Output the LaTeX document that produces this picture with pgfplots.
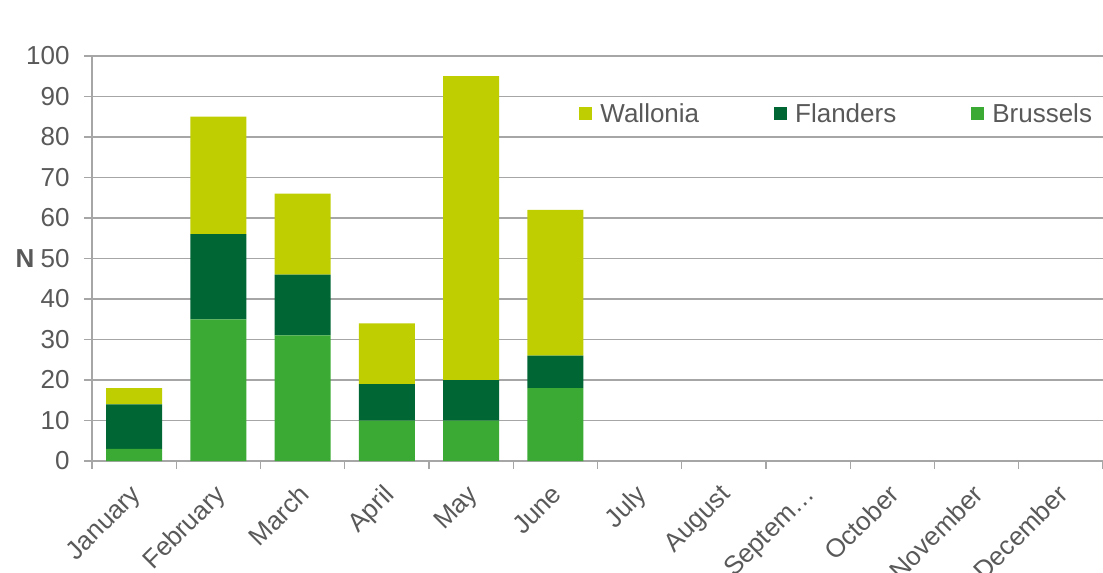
\documentclass[border=0pt]{standalone}
\usepackage{fontspec}
\setmainfont{Liberation Sans}
\usepackage{pgfplots}
\pgfplotsset{compat=1.18}
\definecolor{wal}{RGB}{190,206,0}
\definecolor{fla}{RGB}{0,102,51}
\definecolor{bru}{RGB}{58,170,53}
\definecolor{txt}{RGB}{89,89,89}
\definecolor{grd}{RGB}{166,166,166}
\begin{document}
\begin{tikzpicture}
\begin{axis}[
  at={(0,0)}, anchor=south west,
  scale only axis, width=1011bp, height=405bp,
  ybar stacked, bar width=56bp,
  xmin=-0.5, xmax=11.5, ymin=0, ymax=100,
  ytick={0,10,...,100},
  xtick={0,...,11},
  xticklabels={January,February,March,April,May,June,July,August,Septem…,October,November,December},
  extra x ticks={-0.5,0.5,...,11.5},
  extra x tick labels={},
  extra x tick style={xtick style={draw=grd, line width=1.2bp}},
  major tick length=8bp,
  xtick style={draw=none},
  ytick style={draw=grd, line width=1.2bp},
  tick align=outside,
  tick pos=left,
  ymajorgrids=true,
  grid style={draw=grd, line width=1.2bp},
  axis x line*=bottom, axis y line*=left,
  axis line style={draw=grd, line width=1.6bp, -},
  font=\fontsize{26bp}{31bp}\selectfont,
  tick label style={text=txt, font=\fontsize{26bp}{31bp}\selectfont},
  /pgf/number format/assume math mode=true,
  yticklabel style={xshift=-11bp},
  xticklabel style={rotate=45, anchor=north east, xshift=-10bp, yshift=-3bp},
  ylabel={\textbf{N}},
  ylabel style={rotate=-90, at={(axis description cs:0,0.5)}, anchor=east, xshift=-54bp, text=txt, font=\fontsize{26bp}{31bp}\selectfont},
  legend columns=3,
  legend style={at={(0.478,0.893)}, anchor=north west, draw=none, fill=white,
    inner xsep=4bp, inner ysep=2bp,
    font=\fontsize{26bp}{31bp}\selectfont, text=txt,
    /tikz/every even column/.append style={column sep=73bp},
    /tikz/every odd column/.append style={column sep=6bp}},
  legend cell align=left,
  legend image code/.code={\fill[#1] (0bp,-6.5bp) rectangle (13bp,6.5bp);},
  reverse legend,
]
\addplot[fill=bru, draw=none] coordinates {(0,3) (1,35) (2,31) (3,10) (4,10) (5,18)};
\addplot[fill=fla, draw=none] coordinates {(0,11) (1,21) (2,15) (3,9) (4,10) (5,8)};
\addplot[fill=wal, draw=none] coordinates {(0,4) (1,29) (2,20) (3,15) (4,75) (5,36)};
\legend{Brussels,Flanders,Wallonia}
\end{axis}
\pgfresetboundingbox
\path[use as bounding box] (-92bp,-112bp) rectangle (1011bp,461bp);
\end{tikzpicture}
\end{document}
